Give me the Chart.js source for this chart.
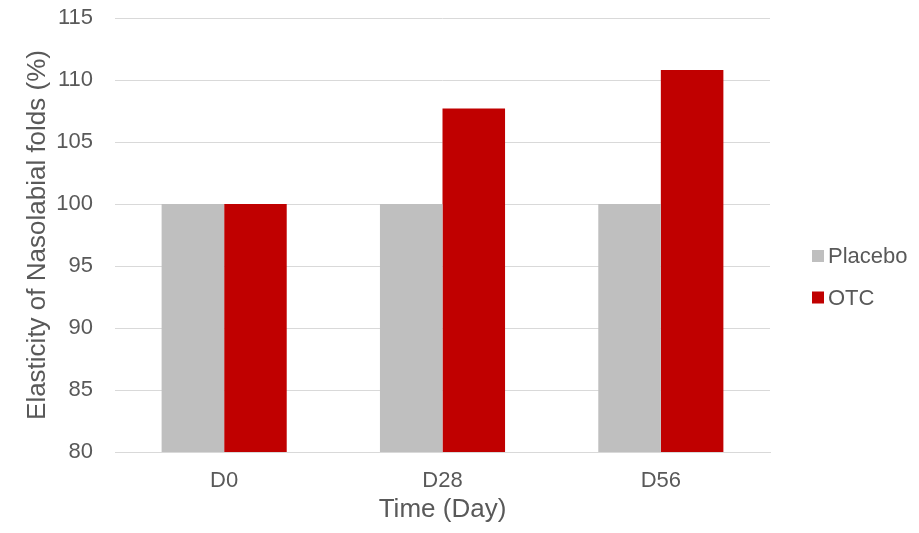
<!DOCTYPE html>
<html>
<head>
<meta charset="utf-8">
<script src="https://cdn.jsdelivr.net/npm/chart.js@4.4.1/dist/chart.umd.min.js"></script>
<style>
  html, body { margin: 0; padding: 0; background: #ffffff; }
  #wrap { width: 919px; height: 533px; }
</style>
</head>
<body>
<div id="wrap"><canvas id="chart" width="919" height="533"></canvas></div>
<script>
// Time points and elasticity values (% of baseline)
const days = ['D0', 'D28', 'D56'];
const placeboValues = [100, 100, 100];
const otcValues = [100, 107.7, 110.8];
const seriesNames = ['Placebo', 'OTC'];
const yTicks = [80, 85, 90, 95, 100, 105, 110, 115];

const FONT = "'Liberation Sans', Arial, sans-serif";
const TEXT = '#595959';
const GRID = '#D9D9D9';

// Legend drawn at the right of the plot, one square swatch per series
const sideLegend = {
  id: 'sideLegend',
  afterDraw(chart) {
    const ctx = chart.ctx;
    const rows = [256, 297.5];
    ctx.save();
    ctx.font = '22px ' + FONT;
    ctx.textBaseline = 'middle';
    ctx.textAlign = 'left';
    chart.data.datasets.forEach((ds, i) => {
      const y = rows[i];
      ctx.fillStyle = ds.backgroundColor;
      ctx.fillRect(812, y - 6, 12, 12);
      ctx.fillStyle = TEXT;
      ctx.fillText(ds.label, 828, y + 1);
    });
    ctx.restore();
  }
};

new Chart(document.getElementById('chart'), {
  type: 'bar',
  data: {
    labels: days,
    datasets: [
      { label: seriesNames[0], data: placeboValues, backgroundColor: '#BFBFBF',
        categoryPercentage: 0.573, barPercentage: 1.0 },
      { label: seriesNames[1], data: otcValues, backgroundColor: '#C00000',
        categoryPercentage: 0.573, barPercentage: 1.0 }
    ]
  },
  options: {
    responsive: false,
    animation: false,
    devicePixelRatio: 1,
    layout: { padding: { top: 18, right: 149, bottom: 0, left: 0 } },
    plugins: {
      legend: { display: false },
      tooltip: { enabled: false }
    },
    scales: {
      x: {
        grid: { display: false },
        border: { display: true, color: GRID, width: 1 },
        ticks: { color: TEXT, font: { family: FONT, size: 22 }, padding: 8 },
        title: {
          display: true, text: 'Time (Day)', color: TEXT,
          font: { family: FONT, size: 26 }, padding: { top: 0, bottom: 8 }
        },
        afterFit(scale) { scale.height = 81; }
      },
      y: {
        min: 80, max: 115,
        afterBuildTicks(scale) { scale.ticks = yTicks.map(v => ({ value: v })); },
        grid: { color: GRID, lineWidth: 1, drawTicks: false },
        border: { display: false },
        ticks: { color: TEXT, font: { family: FONT, size: 22 }, padding: 22 },
        title: {
          display: true, text: 'Elasticity of Nasolabial folds (%)', color: TEXT,
          font: { family: FONT, size: 26 }, padding: { top: 22, bottom: 0 }
        },
        afterFit(scale) {
          scale.width = 115;
          scale.paddingTop = 0;
          scale.paddingBottom = 0;
        }
      }
    }
  },
  plugins: [sideLegend]
});
</script>
</body>
</html>
